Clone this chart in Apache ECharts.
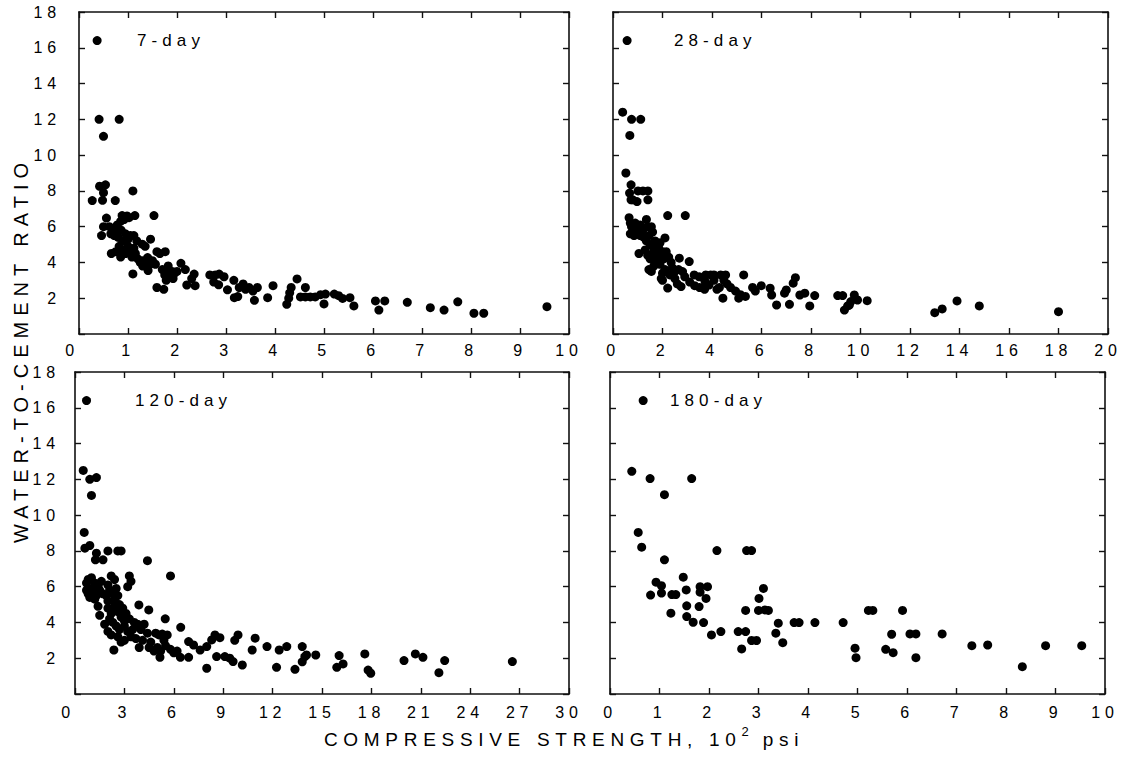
<!DOCTYPE html>
<html>
<head>
<meta charset="utf-8">
<script src="https://cdn.jsdelivr.net/npm/echarts@6/dist/echarts.min.js"></script>
<style>
  html, body { margin: 0; padding: 0; background: #fff; }
  #chart { width: 1129px; height: 761px; }
  /* wide typewriter-like tracking on every label */
  #chart text { letter-spacing: 0.3em; }
</style>
</head>
<body>
<div id="chart"></div>
<script>
// Compressive strength (10^2 psi) vs water-to-cement ratio, by curing age
const panelNames = ['7-day', '28-day', '120-day', '180-day'];
const xAxisMax = [10, 20, 30, 10];
const xAxisStep = [1, 2, 3, 1];
const yAxisMax = 18;
const yAxisStep = 2;

const day7 = [
  [0.37,16.4],[0.41,12.0],[0.82,12.0],[0.50,11.05],
  [0.27,7.46],[0.42,8.26],[0.54,8.34],[0.50,7.9],[0.48,7.47],[0.74,7.46],[1.10,8.0],
  [0.46,5.5],[0.56,6.48],[0.50,6.0],
  [0.62,6.0],[0.70,5.9],[0.75,5.7],[0.78,6.1],[0.85,6.3],[0.88,6.62],[0.92,6.4],[0.98,6.6],[1.02,6.5],[1.14,6.62],[1.53,6.62],
  [0.65,5.6],[0.72,5.5],[0.80,5.4],[0.86,5.8],[0.90,5.2],[0.95,5.6],[1.00,5.3],[1.05,5.5],[1.12,5.5],[1.18,5.2],
  [0.66,4.5],[0.75,4.6],[0.82,4.9],[0.85,4.3],[0.90,4.7],[0.95,4.5],[1.00,4.9],[1.05,4.6],[1.08,4.3],[1.12,4.8],[1.15,4.5],
  [1.20,4.2],[1.25,4.0],[1.30,4.1],[1.29,5.02],[1.35,4.9],[1.46,5.3],[1.40,4.27],[1.45,3.9],[1.50,4.1],[1.56,3.9],
  [1.59,4.6],[1.65,4.5],[1.76,4.6],[1.10,3.36],[1.41,3.55],[1.30,3.8],
  [1.59,2.6],[1.73,2.5],[1.78,3.0],[1.80,3.4],[1.82,3.8],[1.85,3.2],[1.90,3.5],[1.95,3.4],[2.00,3.5],[1.70,3.6],[1.75,3.3],[1.92,3.1],
  [2.08,3.95],[2.17,3.6],[2.35,3.35],[2.20,2.74],[2.37,2.7],[2.30,3.1],
  [2.67,3.3],[2.78,3.3],[2.86,3.35],[2.96,3.2],[3.16,3.0],[2.85,2.75],[3.03,2.47],[2.75,2.9],
  [3.17,2.03],[3.24,2.09],[3.27,2.6],[3.35,2.8],[3.40,2.5],[3.47,2.6],[3.58,1.88],[3.64,2.6],[3.55,2.4],[3.85,2.03],[3.96,2.7],
  [4.24,1.66],[4.33,2.6],[4.30,2.3],[4.28,2.0],[4.45,3.08],[4.62,2.6],[4.52,2.07],[4.62,2.07],[4.72,2.07],[4.82,2.07],
  [4.93,2.2],[5.03,2.23],[5.00,1.68],[5.21,2.23],[5.30,2.14],[5.38,1.99],[5.53,2.03],[5.61,1.57],
  [6.05,1.85],[6.12,1.34],[6.24,1.85],[6.70,1.77],[7.17,1.47],[7.45,1.34],[7.73,1.8],[8.06,1.16],[8.26,1.16],[9.55,1.53]
];

const day28 = [
  [0.57,16.4],[0.39,12.4],[0.75,12.0],[1.12,12.0],[0.68,11.1],[0.52,9.0],
  [0.73,8.34],[0.67,7.88],[0.73,7.5],[1.01,8.0],[1.21,8.0],[1.41,8.0],[1.41,7.5],[0.80,7.5],[0.97,7.4],
  [2.21,6.62],[2.92,6.62],
  [0.65,6.5],[0.70,6.2],[0.75,6.0],[0.85,5.8],[0.90,6.2],[1.00,5.9],[1.10,6.1],[1.20,5.8],[1.35,6.4],[1.40,6.0],[1.55,6.0],[1.60,5.7],
  [0.70,5.6],[0.85,5.5],[0.95,5.6],[1.10,5.5],[1.25,5.4],[1.35,5.2],[1.45,5.5],[1.50,5.0],[1.60,4.9],[1.70,5.2],[1.75,4.7],
  [1.85,4.8],[1.90,5.1],[2.00,4.6],[1.30,4.7],[1.40,4.4],[1.50,4.2],[1.60,4.5],[1.70,4.0],[1.80,4.3],[1.90,3.9],[2.05,4.2],
  [2.15,4.6],[2.25,4.3],[2.35,4.0],[2.40,3.7],[2.50,3.5],[1.65,3.8],[1.45,3.6],[1.55,3.5],[2.10,3.6],[2.30,3.3],[2.00,3.0],
  [2.50,3.1],[2.60,2.8],[1.05,4.5],[2.10,5.37],
  [2.00,3.4],[1.95,3.1],[2.21,2.57],[2.68,4.24],[3.08,4.05],[2.81,3.49],[2.75,2.65],[3.28,3.3],[3.48,3.2],[3.68,3.1],
  [3.75,3.3],[3.95,3.3],[4.08,3.3],[3.72,2.93],[3.88,2.74],[4.08,3.0],[4.35,3.3],[4.55,3.3],[4.48,3.0],[4.61,2.8],
  [4.44,2.0],[4.75,2.6],[4.95,2.4],[5.15,2.2],[5.35,2.1],[5.28,3.3],[5.08,2.0],[2.65,3.6],[2.90,3.2],[3.10,2.9],
  [3.30,2.7],[3.50,2.6],[3.70,2.5],[4.20,2.5],[4.30,2.6],
  [5.64,2.6],[5.75,2.4],[5.99,2.7],[6.35,2.56],[6.41,2.18],[6.61,1.62],[7.00,2.46],[6.93,2.28],[7.13,1.66],[7.28,2.84],
  [7.37,3.15],[7.55,2.18],[7.75,2.28],[7.95,1.57],[8.15,2.15],[9.08,2.15],[9.28,2.15],[9.35,1.34],[9.55,1.62],[9.75,2.18],
  [9.48,1.57],[9.61,1.81],[9.88,1.9],[10.27,1.86],[13.0,1.19],[13.3,1.4],[13.9,1.85],[14.8,1.57],[18.0,1.25]
];

const day120 = [
  [0.70,16.4],[0.50,12.5],[0.90,12.0],[1.30,12.1],[1.00,11.1],[0.56,9.03],[0.60,8.15],[0.90,8.3],[1.30,7.87],[1.24,7.5],
  [1.70,7.5],[2.00,8.0],[2.60,8.0],[2.80,8.0],[4.40,7.45],[5.80,6.6],
  [0.70,6.2],[0.80,6.4],[1.00,6.5],[1.20,6.2],[1.40,6.0],[2.20,6.6],[2.40,6.4],[2.00,6.1],[1.60,6.3],[3.30,6.6],[3.40,6.3],[3.20,6.0],
  [0.70,5.8],[0.80,5.6],[0.90,5.9],[1.10,5.7],[1.30,5.5],[1.50,5.8],[1.70,5.6],[1.90,5.5],[2.10,5.8],[2.30,5.6],[2.50,5.9],
  [2.60,5.5],[0.90,5.4],[1.20,5.3],[2.00,5.2],[2.40,5.2],[2.70,5.0],
  [1.40,4.9],[1.50,4.4],[2.00,4.8],[2.20,4.5],[2.40,4.9],[2.60,4.6],[2.80,4.3],[2.10,4.2],[2.30,4.0],[2.90,4.8],[3.10,4.5],
  [3.30,4.2],[3.88,4.98],[4.48,4.7],[3.60,4.0],[3.00,4.1],
  [1.80,3.9],[2.00,3.5],[2.50,3.8],[2.70,3.6],[3.00,3.8],[3.20,3.5],[3.50,3.6],[3.80,3.9],[4.00,3.6],[4.20,3.9],[4.40,3.4],
  [2.20,3.3],[2.60,3.2],[3.40,3.2],[3.70,3.1],[2.36,2.46],[3.90,2.6],[2.80,2.9],[3.00,3.0],
  [4.10,3.0],[4.60,2.9],[4.90,3.4],[5.10,3.3],[5.30,3.35],[5.60,3.3],[5.40,3.0],[5.00,2.6],[5.20,2.4],[5.50,2.7],[5.80,2.5],
  [6.00,2.3],[6.20,2.4],[5.16,2.05],[6.40,2.05],[6.90,2.05],[5.48,4.2],[6.42,3.73],[4.50,2.6],[4.80,2.4],
  [6.90,2.93],[7.20,2.74],[7.60,2.46],[8.00,2.65],[8.30,3.02],[8.50,3.3],[8.80,3.15],[8.00,1.44],[8.60,2.09],[9.10,2.09],
  [9.40,2.0],[9.60,1.81],[9.70,3.0],[9.90,3.3],[10.16,1.62],[10.76,2.46],[10.94,3.12],[11.66,2.65],[12.24,1.49],[12.40,2.46],
  [12.86,2.65],[13.36,1.38],[13.80,2.65],[13.96,2.09],[13.80,1.8],[14.06,2.18],[14.62,2.18],[16.04,2.15],[15.90,1.49],
  [16.28,1.68],[17.60,2.24],[17.80,1.34],[17.96,1.16],[19.98,1.87],[20.67,2.24],[21.13,2.05],[22.10,1.19],[22.45,1.87],[26.56,1.81]
];

const day180 = [
  [0.67,16.4],[0.44,12.45],[0.81,12.04],[1.65,12.04],[1.10,11.14],[0.57,9.03],[0.64,8.21],[2.16,8.02],[2.76,8.02],[2.86,8.02],
  [1.10,7.5],[0.93,6.25],[1.04,6.05],[1.04,5.64],[0.82,5.53],[1.25,5.56],[1.33,5.56],[1.48,6.53],[1.54,5.82],[1.82,6.0],
  [1.82,5.69],[1.97,6.0],[1.94,5.34],[1.23,4.52],[1.55,4.93],[1.55,4.33],[1.68,4.01],[1.80,4.89],[1.89,3.99],[2.05,3.3],
  [2.24,3.49],[2.59,3.49],[2.74,3.49],[2.74,4.67],[2.66,2.52],[2.86,2.99],[2.96,2.99],[3.01,5.34],[3.10,5.9],[3.00,4.67],
  [3.13,4.7],[3.20,4.67],[3.35,3.4],[3.40,3.96],[3.49,2.87],[3.72,3.99],[3.82,3.99],[4.14,3.99],[4.71,3.99],[4.95,2.56],
  [4.97,2.03],[5.22,4.67],[5.31,4.67],[5.91,4.67],[5.69,3.34],[6.06,3.36],[6.18,3.36],[6.71,3.36],[5.57,2.5],[5.72,2.31],
  [6.18,2.03],[7.31,2.7],[7.63,2.74],[8.33,1.53],[8.80,2.7],[9.53,2.7]
];

const panelData = [day7, day28, day120, day180];

const FONT = '"Liberation Sans", Arial, Helvetica, sans-serif';
const INK = '#000';
const TRACK = 0.3; // letter-spacing in em, mirrors the CSS rule above

const grids = [
  { left: 79,  top: 12,  width: 490, height: 322 },
  { left: 613, top: 12,  width: 495, height: 322 },
  { left: 75,  top: 372, width: 494, height: 322 },
  { left: 610, top: 372, width: 495, height: 322 }
];
const labelPos = [[137, 40], [674, 40], [135, 400], [670, 400]];

const line = { color: '#111', width: 1.6 };
const tick = { show: true, inside: true, length: 6, lineStyle: { color: '#111', width: 1.4 } };

const xAxes = [];
const yAxes = [];
const series = [];

panelData.forEach((pts, i) => {
  const leftCol = (i % 2 === 0);
  const base = { gridIndex: i, type: 'value', min: 0, splitLine: { show: false },
                 axisLine: { show: true, onZero: false, lineStyle: line }, axisTick: tick };
  xAxes.push(Object.assign({}, base, {
    position: 'bottom', max: xAxisMax[i], interval: xAxisStep[i],
    axisLabel: { show: true, color: INK, fontFamily: FONT, fontSize: 16,
                 margin: i < 2 ? 8 : 10, alignMinLabel: leftCol ? 'right' : 'center' }
  }));
  xAxes.push(Object.assign({}, base, {
    position: 'top', max: xAxisMax[i], interval: xAxisStep[i], axisLabel: { show: false }
  }));
  yAxes.push(Object.assign({}, base, {
    position: 'left', max: yAxisMax, interval: yAxisStep,
    axisLabel: { show: leftCol, color: INK, fontFamily: FONT, fontSize: 16,
                 margin: i === 0 ? 18 : 15, formatter: v => (v === 0 ? '' : String(v)) }
  }));
  yAxes.push(Object.assign({}, base, {
    position: 'right', max: yAxisMax, interval: yAxisStep, axisLabel: { show: false }
  }));
  series.push({
    type: 'scatter', xAxisIndex: 2 * i, yAxisIndex: 2 * i,
    data: pts, symbol: 'circle', symbolSize: 9,
    itemStyle: { color: '#000', opacity: 1 }, silent: true
  });
});

// width of tracked text, used to lay out the x-axis title pieces
const mctx = document.createElement('canvas').getContext('2d');
function trackedWidth(str, size) {
  mctx.font = size + 'px ' + FONT;
  return mctx.measureText(str).width + str.length * size * TRACK;
}

const TITLE_SIZE = 19;
const titleMain = 'COMPRESSIVE STRENGTH, 10';
const titleSup = '2';
const titleTail = 'psi';
const wMain = trackedWidth(titleMain, TITLE_SIZE);
const wSup = trackedWidth(titleSup, 13);
const wTail = trackedWidth(titleTail, TITLE_SIZE);
const gap = 10;
const xStart = 564 - (wMain + wSup + gap + wTail) / 2;

function textEl(x, y, text, size, align, extra) {
  return Object.assign({
    type: 'text', x: x, y: y, silent: true,
    style: { text: text, font: size + 'px ' + FONT, fill: INK,
             textAlign: align, align: align, textVerticalAlign: 'middle', verticalAlign: 'middle' }
  }, extra || {});
}

const graphics = [
  textEl(xStart, 739, titleMain, TITLE_SIZE, 'left'),
  textEl(xStart + wMain, 731, titleSup, 13, 'left'),
  textEl(xStart + wMain + wSup + gap, 739, titleTail, TITLE_SIZE, 'left'),
  textEl(21, 350, 'WATER-TO-CEMENT RATIO', 20, 'center', { rotation: Math.PI / 2 })
];
panelNames.forEach((name, i) => {
  graphics.push(textEl(labelPos[i][0], labelPos[i][1], name, 17, 'left'));
});

const chart = echarts.init(document.getElementById('chart'), null, { renderer: 'svg' });
chart.setOption({
  animation: false,
  backgroundColor: '#fff',
  grid: grids,
  xAxis: xAxes,
  yAxis: yAxes,
  series: series,
  graphic: graphics
});
</script>
</body>
</html>
